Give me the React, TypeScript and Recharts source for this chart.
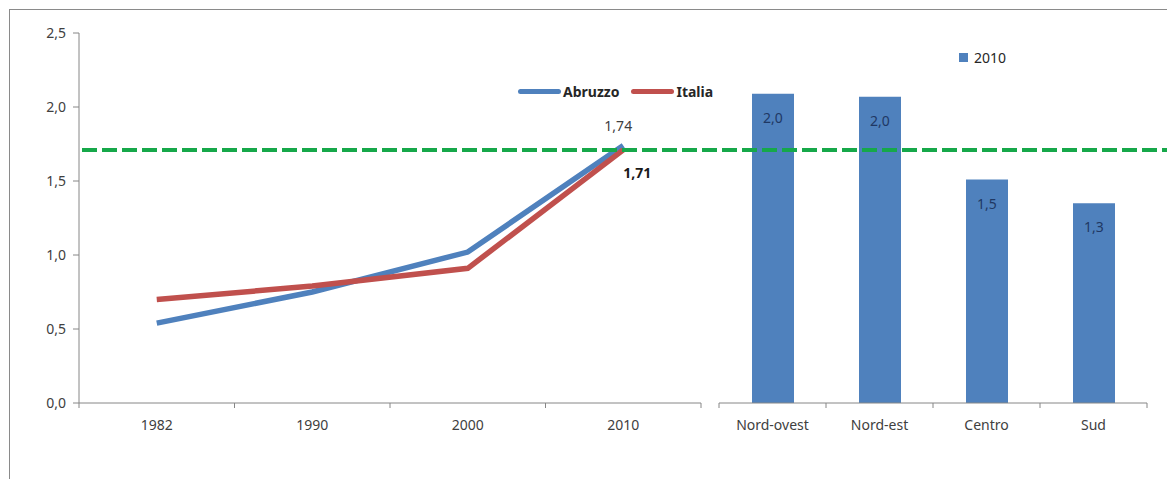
import React from 'react';
import {
  LineChart,
  Line,
  BarChart,
  Bar,
  ComposedChart,
  XAxis,
  YAxis,
  Legend,
  LabelList,
  ReferenceLine,
} from 'recharts';

// values
const years = ['1982', '1990', '2000', '2010'];
const abruzzo = [0.54, 0.75, 1.02, 1.74];
const italia = [0.7, 0.79, 0.91, 1.71];

const regions = ['Nord-ovest', 'Nord-est', 'Centro', 'Sud'];
const regional2010 = [2.09, 2.07, 1.51, 1.35];
const regionalLabels = ['2,0', '2,0', '1,5', '1,3'];

const italyLevel = 1.71;
const yTicks = [0, 0.5, 1, 1.5, 2, 2.5];

const BLUE = '#4F81BD';
const RED = '#C0504D';
const GREEN = '#16A84A';
const AXIS = '#868686';
const TEXT = '#404040';
const FONT = '"Noto Sans", sans-serif';

const lineData = years.map((year, i) => ({ year, abruzzo: abruzzo[i], italia: italia[i] }));
const barData = regions.map((region, i) => ({ region, value: regional2010[i], label: regionalLabels[i] }));

const fmt = (v: number) => v.toFixed(1).replace('.', ',');
const fmt2 = (v: number) => v.toFixed(2).replace('.', ',');

// Excel style category ticks: marks sit between categories, label in the middle
const CategoryTick = (props: any) => {
  const { x, y, payload, index, visibleTicksCount, width } = props;
  const half = payload?.offset || width / visibleTicksCount / 2;
  const last = index === visibleTicksCount - 1;
  return (
    <g>
      <line x1={x - half} x2={x - half} y1={y} y2={y + 5} stroke={AXIS} />
      {last && <line x1={x + half} x2={x + half} y1={y} y2={y + 5} stroke={AXIS} />}
      <text x={x} y={y + 27} textAnchor="middle" fill={TEXT} fontSize={14} fontFamily={FONT}>
        {payload.value}
      </text>
    </g>
  );
};

const LineLegend = ({ payload }: any) => (
  <div style={{ display: 'flex', alignItems: 'center', fontFamily: FONT }}>
    {(payload || []).map((item: any) => (
      <div key={item.value} style={{ display: 'flex', alignItems: 'center', marginRight: 12 }}>
        <span style={{ width: 43, height: 5, borderRadius: 3, background: item.color, display: 'inline-block' }} />
        <span style={{ fontSize: 14, fontWeight: 'bold', color: '#262626', marginLeft: 2 }}>{item.value}</span>
      </div>
    ))}
  </div>
);

const BarLegend = ({ payload }: any) => (
  <div style={{ display: 'flex', alignItems: 'center', fontFamily: FONT }}>
    {(payload || []).map((item: any) => (
      <div key={item.value} style={{ display: 'flex', alignItems: 'center' }}>
        <span style={{ width: 9, height: 9, background: BLUE, display: 'inline-block' }} />
        <span style={{ fontSize: 14, color: '#262626', marginLeft: 6 }}>{item.value}</span>
      </div>
    ))}
  </div>
);

const App: React.FC = () => {
  return (
    <div
      style={{
        position: 'fixed',
        left: 0,
        top: 0,
        width: 1167,
        height: 479,
        overflow: 'hidden',
        background: '#fff',
        fontFamily: FONT,
      }}
    >
      <div
        style={{
          position: 'absolute',
          left: 9,
          top: 9,
          width: 1200,
          height: 520,
          border: '1px solid #8a8a8a',
        }}
      />

      {/* line part */}
      <div style={{ position: 'absolute', left: 0, top: 0 }}>
        <LineChart width={720} height={479} data={lineData} margin={{ top: 33, right: 19, bottom: 46, left: 0 }}>
          <YAxis
            width={79}
            domain={[0, 2.5]}
            ticks={yTicks}
            tickFormatter={fmt}
            stroke={AXIS}
            tickSize={6}
            tickMargin={7}
            tick={{ fill: TEXT, fontSize: 14, fontFamily: FONT }}
          />
          <XAxis
            dataKey="year"
            scale="band"
            height={30}
            stroke={AXIS}
            tickLine={false}
            tickSize={0}
            tickMargin={0}
            tick={<CategoryTick />}
            interval={0}
          />
          <Legend
            layout="horizontal"
            verticalAlign="middle"
            align="center"
            content={<LineLegend />}
            wrapperStyle={{ top: 82, left: 518, width: 'auto', height: 20 }}
          />
          <Line dataKey="abruzzo" name="Abruzzo" stroke={BLUE} strokeWidth={5.5} dot={false} isAnimationActive={false}>
            <LabelList
              dataKey="abruzzo"
              content={(p: any) =>
                p.index === years.length - 1 ? (
                  <text x={p.x - 5} y={p.y - 14} textAnchor="middle" fill={TEXT} fontSize={14} fontFamily={FONT}>
                    {fmt2(p.value)}
                  </text>
                ) : null
              }
            />
          </Line>
          <Line dataKey="italia" name="Italia" stroke={RED} strokeWidth={5.5} dot={false} isAnimationActive={false}>
            <LabelList
              dataKey="italia"
              content={(p: any) =>
                p.index === years.length - 1 ? (
                  <text x={p.x + 14} y={p.y + 28} textAnchor="middle" fill="#1a1a1a" fontSize={14} fontWeight="bold" fontFamily={FONT}>
                    {fmt2(p.value)}
                  </text>
                ) : null
              }
            />
          </Line>
        </LineChart>
      </div>

      {/* regional bars */}
      <div style={{ position: 'absolute', left: 700, top: 0 }}>
        <BarChart width={467} height={479} data={barData} margin={{ top: 33, right: 20, bottom: 46, left: 19 }}>
          <YAxis hide domain={[0, 2.5]} ticks={yTicks} />
          <XAxis dataKey="region" height={30} stroke={AXIS} tickLine={false} tickSize={0} tickMargin={0} tick={<CategoryTick />} interval={0} />
          <Legend
            layout="horizontal"
            verticalAlign="middle"
            align="center"
            content={<BarLegend />}
            wrapperStyle={{ top: 48, left: 259, width: 'auto', height: 20 }}
          />
          <Bar dataKey="value" name="2010" fill={BLUE} barSize={42} isAnimationActive={false}>
            <LabelList
              dataKey="label"
              content={(p: any) => {
                const vb = p.viewBox || p;
                const bx = vb.x ?? p.x;
                const by = vb.y ?? p.y;
                const bw = vb.width ?? p.width;
                return (
                  <text x={bx + bw / 2} y={by + 29} textAnchor="middle" fill="#1F3864" fontSize={14} fontFamily={FONT}>
                    {p.value}
                  </text>
                );
              }}
            />
          </Bar>
        </BarChart>
      </div>

      {/* national level across the whole picture */}
      <div style={{ position: 'absolute', left: 0, top: 0, pointerEvents: 'none' }}>
        <ComposedChart width={1167} height={479} data={lineData} margin={{ top: 33, right: 0, bottom: 76, left: 82 }}>
          <XAxis dataKey="year" hide />
          <YAxis hide domain={[0, 2.5]} ticks={yTicks} />
          <Line dataKey="italia" stroke="none" dot={false} legendType="none" isAnimationActive={false} />
          <ReferenceLine y={italyLevel} stroke={GREEN} strokeWidth={4} strokeDasharray="15 5" ifOverflow="extendDomain" />
        </ComposedChart>
      </div>
    </div>
  );
};

export default App;
